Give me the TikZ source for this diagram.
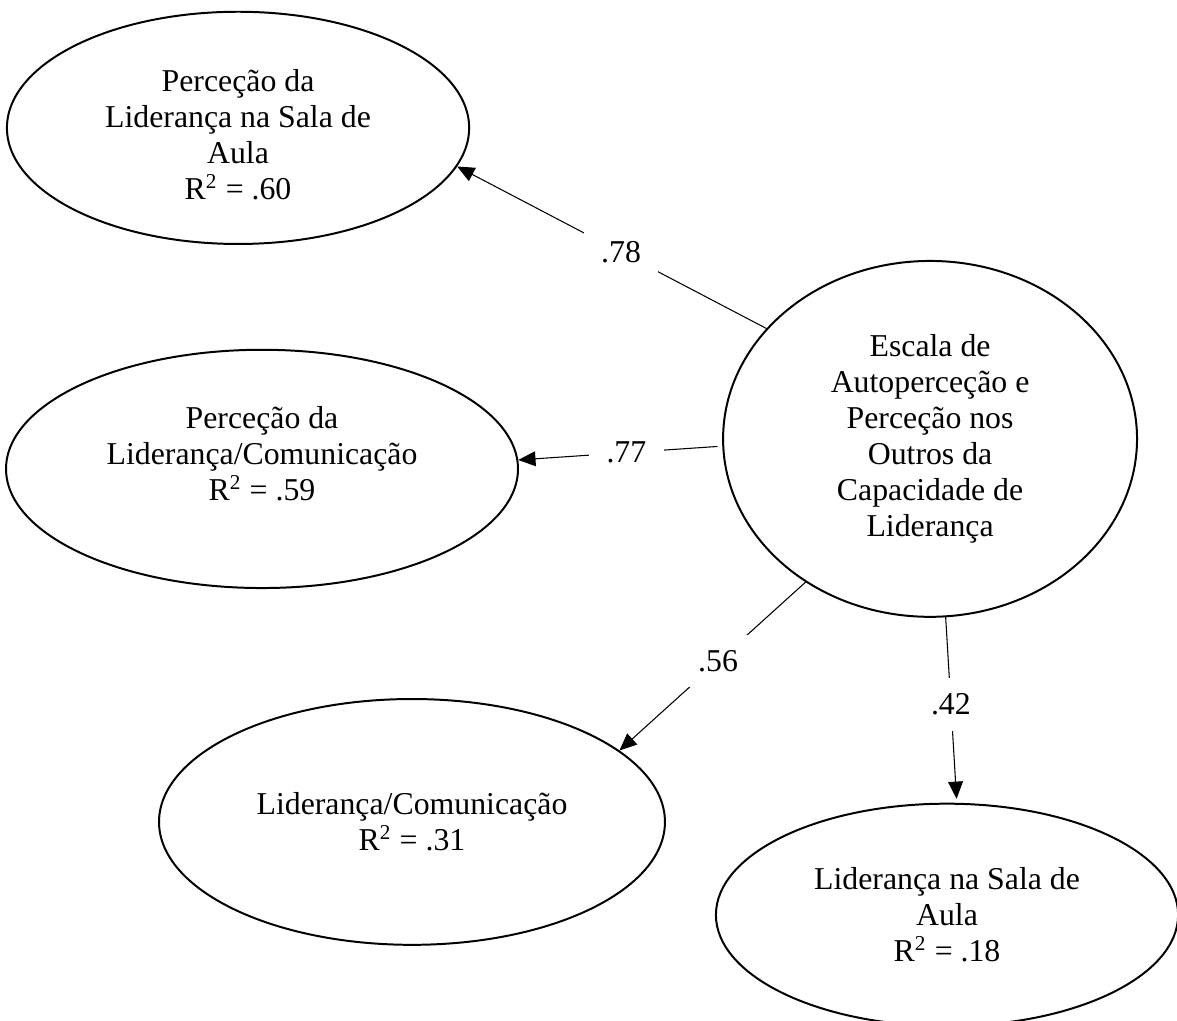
\documentclass[tikz,border=0pt]{standalone}
\usepackage{fontspec}
\setmainfont{Liberation Serif}
\usetikzlibrary{shapes.geometric,arrows.meta}
\begin{document}
\begin{tikzpicture}[scale=1,>={Triangle[length=6.5pt,width=5.6pt]}, font=\fontsize{12}{13.6}\selectfont, line join=round, line cap=round,
	elip/.style={draw,ellipse,line width=0.75pt,inner sep=0pt,align=center},
	heso/.style={fill=white,inner xsep=6.5pt,inner ysep=5.8pt,pos=0.47}]
	\def\W{15.61} \def\H{13.54} % khung
	\useasboundingbox (0,0) rectangle (\W,\H);
	\node[elip,minimum width=6.13cm,minimum height=3.08cm,text height=54.5pt] (pl) at (3.157,11.844) {Perceção da\\Liderança na Sala de\\Aula\\R\textsuperscript{2} = .60};
	\node[elip,minimum width=6.79cm,minimum height=3.16cm,text depth=11.5pt] (pc) at (3.475,7.321) {Perceção da\\Liderança/Comunicação\\R\textsuperscript{2} = .59};
	\node[elip,minimum width=5.49cm,minimum height=4.72cm] (esc) at (12.335,7.719) {Escala de\\Autoperceção e\\Perceção nos\\Outros da\\Capacidade de\\Liderança};
	\node[elip,minimum width=6.71cm,minimum height=3.26cm] (lc) at (5.464,2.639) {Liderança/Comunicação\\R\textsuperscript{2} = .31};
	\node[elip,minimum width=6.13cm,minimum height=2.95cm] (ls) at (12.56,1.406) {Liderança na Sala de\\Aula\\R\textsuperscript{2} = .18};
	% he so
	\draw[->,line width=0.4pt] (esc.146.3) -- node[heso]{.78} (pl.-10.1);
	\draw[->,line width=0.4pt,shorten <=2pt] (esc.182.2) -- node[heso]{.77} (pc.2.9);
	\draw[->,line width=0.4pt] (esc.229.9) -- node[heso]{.56} (lc.19.5);
	\draw[->,line width=0.4pt,shorten >=1.5pt] (esc.275.4) -- node[heso]{.42} (ls.85.8);
\end{tikzpicture}
\end{document}
